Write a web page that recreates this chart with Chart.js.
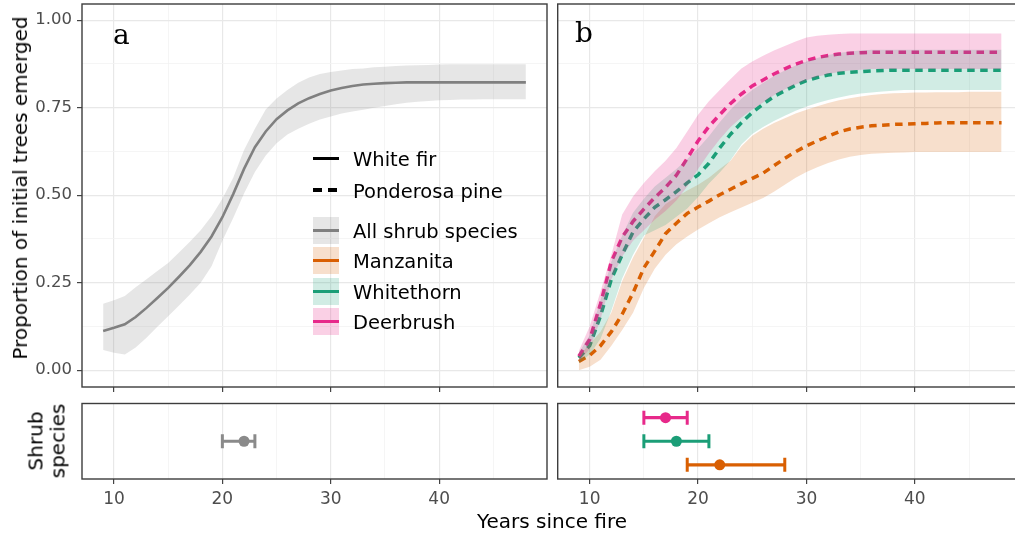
<!DOCTYPE html>
<html>
<head>
<meta charset="utf-8">
<title>Emergence of initial trees after fire</title>
<script src="https://cdn.jsdelivr.net/npm/chart.js@4.4.1/dist/chart.umd.min.js"></script>
<style>
  html, body { margin: 0; padding: 0; background: #fff; overflow: hidden; }
  #figure { position: relative; width: 1015px; height: 539px; overflow: hidden;
            font-family: 'DejaVu Sans', sans-serif; color: #000; }
  #figure canvas { position: absolute; }
  .txt { position: absolute; white-space: nowrap; line-height: 1; }
  .title { font-size: 20px; }
  .rot { transform: translate(-50%, -50%) rotate(-90deg); text-align: center; }
  .panel-tag { font-family: 'DejaVu Serif', serif; font-size: 28px; }
  .key { position: absolute; left: 313px; width: 26px; }
  .key-line { position: absolute; left: 0; width: 26px; height: 3.5px; }
  .legend-text { font-size: 19.5px; left: 353px; }
</style>
</head>
<body>
<div id="figure">
  <canvas id="main-a" width="550" height="400" style="left:0;top:0"></canvas>
  <canvas id="main-b" width="480" height="400" style="left:550px;top:0"></canvas>
  <canvas id="strip-a" width="550" height="139" style="left:0;top:400px"></canvas>
  <canvas id="strip-b" width="480" height="139" style="left:550px;top:400px"></canvas>

  <div class="txt title rot" style="left:20px;top:188px">Proportion of initial trees emerged</div>
  <div class="txt title rot" style="left:47px;top:441px;line-height:21.5px">Shrub<br>species</div>
  <div class="txt title" style="left:552px;top:511px;transform:translateX(-50%)">Years since fire</div>

  <div class="txt panel-tag" style="left:113px;top:21px">a</div>
  <div class="txt panel-tag" style="left:575px;top:19px">b</div>

  <div id="legend"></div>
</div>

<script>
// Years since fire at which the curves were evaluated
const YEARS = [9, 10, 11, 12, 13, 14, 15, 16, 17, 18,
  19, 20, 21, 22, 23, 24, 25, 26, 27, 28,
  29, 30, 31, 32, 33, 34, 35, 36, 37, 38,
  39, 40, 41, 42, 43, 44, 45, 46, 47, 48];

// (a) all shrub species pooled
const ALL_MEAN = [0.112, 0.121, 0.131, 0.152, 0.178, 0.206, 0.235, 0.267, 0.300, 0.338,
  0.382, 0.437, 0.503, 0.575, 0.637, 0.682, 0.717, 0.742, 0.762, 0.777,
  0.789, 0.799, 0.806, 0.812, 0.816, 0.818, 0.820, 0.821, 0.822, 0.822,
  0.822, 0.822, 0.822, 0.822, 0.822, 0.822, 0.822, 0.822, 0.822, 0.822];
const ALL_UPPER = [0.190, 0.200, 0.212, 0.237, 0.260, 0.283, 0.306, 0.336, 0.367, 0.400,
  0.440, 0.490, 0.550, 0.629, 0.690, 0.745, 0.776, 0.800, 0.821, 0.836,
  0.846, 0.852, 0.856, 0.860, 0.862, 0.865, 0.867, 0.869, 0.870, 0.871,
  0.872, 0.873, 0.874, 0.874, 0.874, 0.874, 0.874, 0.874, 0.874, 0.874];
const ALL_LOWER = [0.058, 0.050, 0.045, 0.065, 0.093, 0.124, 0.154, 0.185, 0.216, 0.250,
  0.297, 0.370, 0.435, 0.505, 0.566, 0.613, 0.648, 0.673, 0.690, 0.704,
  0.716, 0.725, 0.733, 0.739, 0.744, 0.750, 0.755, 0.760, 0.764, 0.767,
  0.769, 0.771, 0.772, 0.773, 0.773, 0.774, 0.774, 0.774, 0.774, 0.774];

// (b) Manzanita
const MANZ_MEAN = [0.025, 0.042, 0.070, 0.110, 0.160, 0.221, 0.292, 0.340, 0.390, 0.420,
  0.448, 0.466, 0.483, 0.501, 0.517, 0.533, 0.548, 0.563, 0.584, 0.605,
  0.624, 0.641, 0.655, 0.668, 0.681, 0.689, 0.694, 0.698, 0.700, 0.702,
  0.703, 0.704, 0.705, 0.706, 0.707, 0.707, 0.707, 0.707, 0.707, 0.707];
const MANZ_UPPER = [0.040, 0.075, 0.110, 0.165, 0.255, 0.322, 0.378, 0.440, 0.475, 0.495,
  0.513, 0.530, 0.550, 0.575, 0.598, 0.640, 0.670, 0.690, 0.706, 0.720,
  0.733, 0.744, 0.754, 0.763, 0.771, 0.777, 0.782, 0.786, 0.789, 0.791,
  0.792, 0.793, 0.793, 0.794, 0.794, 0.794, 0.795, 0.795, 0.795, 0.795];
const MANZ_LOWER = [0.000, 0.010, 0.030, 0.070, 0.115, 0.164, 0.235, 0.290, 0.330, 0.360,
  0.382, 0.402, 0.420, 0.437, 0.451, 0.465, 0.478, 0.492, 0.510, 0.530,
  0.550, 0.566, 0.580, 0.592, 0.602, 0.610, 0.615, 0.618, 0.620, 0.621,
  0.622, 0.623, 0.623, 0.623, 0.623, 0.623, 0.623, 0.623, 0.623, 0.623];

// (b) Whitethorn
const WHITE_MEAN = [0.035, 0.070, 0.155, 0.260, 0.330, 0.395, 0.432, 0.465, 0.487, 0.510,
  0.535, 0.558, 0.591, 0.635, 0.674, 0.707, 0.736, 0.760, 0.782, 0.798,
  0.814, 0.827, 0.836, 0.843, 0.848, 0.851, 0.853, 0.855, 0.856, 0.857,
  0.857, 0.857, 0.857, 0.857, 0.857, 0.857, 0.857, 0.857, 0.857, 0.857];
const WHITE_UPPER = [0.050, 0.100, 0.200, 0.310, 0.385, 0.450, 0.490, 0.525, 0.550, 0.575,
  0.603, 0.633, 0.668, 0.708, 0.745, 0.775, 0.800, 0.820, 0.840, 0.856,
  0.870, 0.882, 0.892, 0.900, 0.906, 0.910, 0.913, 0.915, 0.915, 0.915,
  0.915, 0.915, 0.915, 0.915, 0.915, 0.915, 0.915, 0.915, 0.915, 0.915];
const WHITE_LOWER = [0.020, 0.045, 0.090, 0.170, 0.262, 0.330, 0.385, 0.400, 0.415, 0.438,
  0.462, 0.495, 0.533, 0.565, 0.600, 0.645, 0.675, 0.695, 0.712, 0.727,
  0.741, 0.753, 0.763, 0.772, 0.779, 0.785, 0.790, 0.793, 0.796, 0.798,
  0.800, 0.800, 0.800, 0.800, 0.800, 0.800, 0.800, 0.800, 0.800, 0.800];

// (b) Deerbrush
const DEER_MEAN = [0.040, 0.088, 0.190, 0.310, 0.380, 0.425, 0.460, 0.493, 0.522, 0.557,
  0.605, 0.655, 0.696, 0.730, 0.762, 0.789, 0.812, 0.829, 0.846, 0.861,
  0.874, 0.885, 0.893, 0.899, 0.903, 0.905, 0.907, 0.908, 0.908, 0.908,
  0.908, 0.908, 0.908, 0.908, 0.908, 0.908, 0.908, 0.908, 0.908, 0.908];
const DEER_UPPER = [0.055, 0.125, 0.225, 0.330, 0.445, 0.496, 0.535, 0.568, 0.598, 0.635,
  0.682, 0.730, 0.768, 0.800, 0.832, 0.862, 0.882, 0.898, 0.913, 0.926,
  0.939, 0.950, 0.955, 0.958, 0.960, 0.962, 0.962, 0.962, 0.962, 0.962,
  0.962, 0.962, 0.962, 0.962, 0.962, 0.962, 0.962, 0.962, 0.962, 0.962];
const DEER_LOWER = [0.025, 0.060, 0.145, 0.260, 0.325, 0.370, 0.400, 0.430, 0.455, 0.485,
  0.525, 0.575, 0.620, 0.660, 0.695, 0.722, 0.745, 0.765, 0.785, 0.802,
  0.816, 0.828, 0.838, 0.846, 0.852, 0.856, 0.858, 0.860, 0.860, 0.860,
  0.860, 0.860, 0.860, 0.860, 0.860, 0.860, 0.860, 0.860, 0.860, 0.860];

// Year of peak emergence under each shrub (estimate and interval), lower strips
const SHRUB_NAMES = ['Manzanita', 'Whitethorn', 'Deerbrush'];
const SHRUB_ROW = [1, 2, 3];
const SHRUB_EST = [22, 18, 17];
const SHRUB_LO = [19, 15, 15];
const SHRUB_HI = [28, 21, 19];
const ALL_ROW = [2];
const ALL_EST = [22];
const ALL_LO = [20];
const ALL_HI = [23];

// Axis breaks
const X_TICKS = [10, 15, 20, 25, 30, 35, 40, 45];
const Y_TICKS = [0, 0.125, 0.25, 0.375, 0.5, 0.625, 0.75, 0.875, 1];

const COLORS = {
  all: '#808080',
  manzanita: '#D95F02',
  whitethorn: '#1B9E77',
  deerbrush: '#E7298A',
};

const X_MIN = 7.05, X_MAX = 49.95;
const Y_MIN = -0.048, Y_MAX = 1.046;
const ROW_MIN = 0.4, ROW_MAX = 3.6;

const GRID_MAJOR = '#E8E8E8';
const GRID_MINOR = '#F3F3F3';
const TICK_COLOR = '#444444';
const LABEL_COLOR = '#4D4D4D';

Chart.defaults.font.family = "'DejaVu Sans', sans-serif";

const isMajorX = v => v % 10 === 0;
const isMajorY = v => Math.abs(v / 0.25 - Math.round(v / 0.25)) < 1e-6;

const toPoints = ys => YEARS.map((x, i) => ({ x, y: ys[i] }));

function hexToRgba(hex, alpha) {
  const n = parseInt(hex.slice(1), 16);
  return `rgba(${(n >> 16) & 255}, ${(n >> 8) & 255}, ${n & 255}, ${alpha})`;
}

// ggplot-style panel border around the plotting area
const panelFrame = {
  id: 'panelFrame',
  afterDraw(chart) {
    const { ctx, chartArea: a } = chart;
    ctx.save();
    ctx.strokeStyle = '#3d3d3d';
    ctx.lineWidth = 1.4;
    ctx.strokeRect(a.left, a.top, a.right - a.left, a.bottom - a.top);
    ctx.restore();
  },
};

// Confidence band: upper edge filled down to the lower edge (next dataset)
function ribbon(upper, lower, color, alpha) {
  return [
    { data: toPoints(upper), fill: '+1', backgroundColor: hexToRgba(color, alpha),
      borderWidth: 0, pointRadius: 0, order: 0 },
    { data: toPoints(lower), fill: false, borderWidth: 0, pointRadius: 0, order: 0 },
  ];
}

// Mean curve; drawn before the bands, like the original layering
function curve(mean, color, dashed) {
  return {
    data: toPoints(mean), borderColor: color, borderWidth: dashed ? 3.5 : 2.6,
    borderDash: dashed ? [7.5, 5.5] : [], borderCapStyle: 'butt',
    pointRadius: 0, tension: 0, fill: false, order: 1,
  };
}

// Horizontal interval with end caps plus a dot at the estimate
function errorBar(lo, hi, est, row, color) {
  return [
    { data: [{ x: lo, y: row }, { x: hi, y: row }], borderColor: color, borderWidth: 3.2,
      pointStyle: 'line', pointRotation: 90, pointRadius: 7, pointBorderWidth: 3,
      pointBorderColor: color, pointBackgroundColor: color },
    { data: [{ x: est, y: row }], showLine: false, pointStyle: 'circle', pointRadius: 5.5,
      pointBackgroundColor: color, pointBorderColor: color, pointBorderWidth: 0 },
  ];
}

// Fixed axis sizes so every panel lines up with its neighbours
function fixSize(prop, size) {
  return s => {
    s[prop] = size;
    s.paddingTop = 0; s.paddingBottom = 0; s.paddingLeft = 0; s.paddingRight = 0;
  };
}

function xScale(showLabels, height) {
  return {
    type: 'linear', min: X_MIN, max: X_MAX,
    afterBuildTicks: s => { s.ticks = X_TICKS.map(v => ({ value: v })); },
    afterFit: fixSize('height', height),
    border: { display: false },
    grid: {
      color: c => (c.tick && isMajorX(c.tick.value) ? GRID_MAJOR : GRID_MINOR),
      lineWidth: c => (c.tick && isMajorX(c.tick.value) ? 1.2 : 0.8),
      tickColor: c => (c.tick && isMajorX(c.tick.value) ? TICK_COLOR : 'rgba(0,0,0,0)'),
      tickLength: 5, tickWidth: 1.2,
    },
    ticks: {
      display: showLabels, autoSkip: false, maxRotation: 0, padding: 5,
      color: LABEL_COLOR, font: { size: 17 },
      callback: v => (isMajorX(v) ? String(v) : ''),
    },
  };
}

function yScale(showLabels, width) {
  return {
    type: 'linear', min: Y_MIN, max: Y_MAX,
    afterBuildTicks: s => { s.ticks = Y_TICKS.map(v => ({ value: v })); },
    afterFit: fixSize('width', width),
    border: { display: false },
    grid: {
      color: c => (c.tick && isMajorY(c.tick.value) ? GRID_MAJOR : GRID_MINOR),
      lineWidth: c => (c.tick && isMajorY(c.tick.value) ? 1.2 : 0.8),
      tickColor: c => (c.tick && isMajorY(c.tick.value) ? TICK_COLOR : 'rgba(0,0,0,0)'),
      drawTicks: showLabels, tickLength: 5, tickWidth: 1.2,
    },
    ticks: {
      display: showLabels, autoSkip: false, padding: 5,
      color: LABEL_COLOR, font: { size: 16.5 },
      callback: v => (isMajorY(v) ? v.toFixed(2) : ''),
    },
  };
}

function rowScale(width) {
  return {
    type: 'linear', min: ROW_MIN, max: ROW_MAX,
    afterFit: fixSize('width', width),
    border: { display: false },
    grid: { display: false, drawTicks: false },
    ticks: { display: false },
  };
}

function makeChart(id, datasets, scales, padding) {
  return new Chart(document.getElementById(id), {
    type: 'line',
    data: { datasets },
    options: {
      responsive: false,
      animation: false,
      events: [],
      layout: { padding, autoPadding: false },
      plugins: { legend: { display: false }, tooltip: { enabled: false } },
      scales,
    },
    plugins: [panelFrame],
  });
}

// Panel a: all shrub species
makeChart('main-a', [
  ...ribbon(ALL_UPPER, ALL_LOWER, COLORS.all, 0.2),
  curve(ALL_MEAN, COLORS.all, false),
], { x: xScale(false, 13), y: yScale(true, 82) }, { top: 4, right: 3, bottom: 0, left: 0 });

// Panel b: one band per shrub species
makeChart('main-b', [
  ...ribbon(DEER_UPPER, DEER_LOWER, COLORS.deerbrush, 0.22),
  ...ribbon(WHITE_UPPER, WHITE_LOWER, COLORS.whitethorn, 0.2),
  ...ribbon(MANZ_UPPER, MANZ_LOWER, COLORS.manzanita, 0.2),
  curve(DEER_MEAN, COLORS.deerbrush, true),
  curve(WHITE_MEAN, COLORS.whitethorn, true),
  curve(MANZ_MEAN, COLORS.manzanita, true),
], { x: xScale(false, 13), y: yScale(false, 7.7) }, { top: 4, right: 7.3, bottom: 0, left: 0 });

// Lower strips: timing intervals
makeChart('strip-a',
  ALL_EST.flatMap((est, i) => errorBar(ALL_LO[i], ALL_HI[i], est, ALL_ROW[i], '#8a8a8a')),
  { x: xScale(true, 60), y: rowScale(82) }, { top: 3.5, right: 3, bottom: 0, left: 0 });

const shrubColors = [COLORS.manzanita, COLORS.whitethorn, COLORS.deerbrush];
makeChart('strip-b',
  SHRUB_NAMES.flatMap((name, i) =>
    errorBar(SHRUB_LO[i], SHRUB_HI[i], SHRUB_EST[i], SHRUB_ROW[i], shrubColors[i])),
  { x: xScale(true, 60), y: rowScale(7.7) }, { top: 3.5, right: 7.3, bottom: 0, left: 0 });

// Legend (linetype rows, then fill rows)
const legendRows = [
  { label: 'White fir', cy: 158.3, line: '#000', dashed: false },
  { label: 'Ponderosa pine', cy: 190, line: '#000', dashed: true },
  { label: 'All shrub species', cy: 230.3, line: COLORS.all, fill: hexToRgba(COLORS.all, 0.2) },
  { label: 'Manzanita', cy: 260.7, line: COLORS.manzanita, fill: hexToRgba(COLORS.manzanita, 0.2) },
  { label: 'Whitethorn', cy: 291.3, line: COLORS.whitethorn, fill: hexToRgba(COLORS.whitethorn, 0.2) },
  { label: 'Deerbrush', cy: 321.7, line: COLORS.deerbrush, fill: hexToRgba(COLORS.deerbrush, 0.22) },
];

const legend = document.getElementById('legend');
legendRows.forEach(row => {
  const key = document.createElement('div');
  key.className = 'key';
  key.style.top = `${row.cy - 13.6}px`;
  key.style.height = '27.2px';
  if (row.fill) key.style.background = row.fill;

  const segments = row.dashed ? [[0, 9], [15, 9]] : [[0, 26]];
  segments.forEach(([left, width]) => {
    const seg = document.createElement('div');
    seg.className = 'key-line';
    seg.style.left = `${left}px`;
    seg.style.width = `${width}px`;
    seg.style.top = '11.85px';
    seg.style.background = row.line;
    key.appendChild(seg);
  });
  legend.appendChild(key);

  const text = document.createElement('div');
  text.className = 'txt legend-text';
  text.style.top = `${row.cy - 8.5}px`;
  text.textContent = row.label;
  legend.appendChild(text);
});
</script>
</body>
</html>
